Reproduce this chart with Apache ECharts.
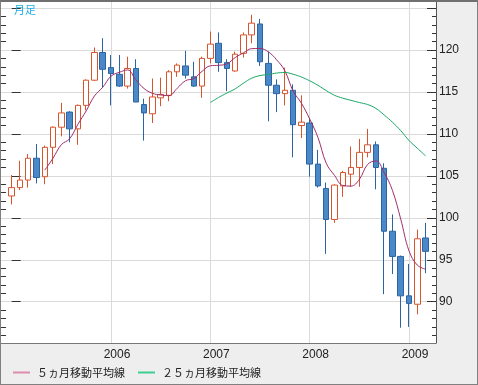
<!DOCTYPE html>
<html><head><meta charset="utf-8">
<script src="https://cdn.jsdelivr.net/npm/echarts@6/dist/echarts.min.js"></script>
<style>
html,body{margin:0;padding:0;background:#eeeeee;}
#wrap{position:absolute;left:0;top:0;width:478px;height:385px;box-sizing:border-box;border:1px solid #808080;border-top:2px solid #707070;background:#eeeeee;}
#chart{width:476px;height:382px;}
</style></head><body>
<div id="wrap"><div id="chart"></div></div>
<script>
// categories: monthly bars, Jan 2005 .. Mar 2009
const startYear = 2005;
const monthCount = 51;
const months = [];
for (let i = 0; i < monthCount; i++) {
  const y = startYear + Math.floor(i / 12), m = (i % 12) + 1;
  months.push(y + '/' + (m < 10 ? '0' : '') + m);
}
const openV  = [102.6,103.6,104.5,107.1,104.9,108.4,110.8,112.6,110.6,113.4,116.4,119.7,
                117.9,117.1,115.7,117.8,113.5,112.4,114.3,114.6,117.4,118.1,116.8,115.7,
                119.0,120.8,118.5,117.5,119.6,121.8,123.1,118.4,115.8,114.8,115.2,111.0,
                111.3,106.4,103.5,99.8,103.8,105.2,106.0,107.8,108.7,105.9,98.4,95.4,
                90.7,89.7,97.6];
const closeV = [103.6,104.5,107.1,104.8,108.4,110.8,112.5,110.6,113.4,116.4,119.7,117.7,
                117.2,115.7,117.8,113.8,112.5,114.4,114.7,117.4,118.2,117.0,115.7,119.0,
                120.7,118.5,117.8,119.5,121.8,123.2,118.6,115.8,114.8,115.2,111.1,111.4,
                106.4,103.8,99.8,103.9,105.4,106.0,107.8,108.7,106.0,98.4,95.4,90.7,
                89.8,97.5,96.0];
const lowV   = [101.6,103.3,103.6,104.1,104.0,106.4,109.7,109.0,108.7,112.8,116.3,115.5,
                113.4,115.6,115.4,113.8,109.2,111.3,113.3,113.9,116.8,116.6,115.6,114.3,
                118.4,117.4,115.1,117.4,119.1,120.8,118.1,111.5,112.6,113.4,107.2,109.5,
                104.9,103.6,95.7,99.4,102.5,103.7,103.7,107.2,103.4,90.9,93.3,86.9,
                87.0,88.5,93.4];
const highV  = [105.1,106.8,107.6,108.8,108.6,110.9,113.7,112.7,113.5,116.5,120.3,121.4,
                119.4,119.4,119.2,118.9,114.2,116.6,116.7,117.6,118.4,119.9,118.6,119.2,
                122.2,122.1,118.9,119.8,122.1,124.2,123.7,119.8,116.5,117.9,115.9,114.6,
                111.9,108.1,104.2,104.0,105.6,108.5,109.4,110.6,109.1,106.5,100.4,95.5,
                94.5,98.6,99.4];
// 5-month moving average, starts at month index 4
const ma5Start = 4;
const ma5 = [105.68,107.12,108.72,109.42,111.14,112.74,114.52,115.56,116.88,117.34,117.62,116.44,
             115.40,114.84,114.64,114.56,115.44,116.34,116.60,117.46,118.12,118.18,118.34,119.10,
             119.66,120.16,120.18,119.78,118.84,117.52,115.10,113.66,111.78,109.58,106.50,105.06,
             103.86,103.78,104.58,106.36,106.78,105.38,103.26,99.84,96.06,94.36,93.88];
// 25-month moving average, starts at month index 24
const ma25Start = 24;
const ma25 = [113.74,114.34,114.87,115.37,116.05,116.64,116.95,117.08,117.25,117.32,117.11,116.78,
              116.33,115.79,115.16,114.60,114.26,114.00,113.74,113.50,113.04,112.25,111.39,110.39,
              109.22,108.29,107.39];
const yearTickLabels = ['2006','2007','2008','2009'];
const yTickLabels = [90,95,100,105,110,115,120];
const yMajorTicks = [85,90,95,100,105,110,115,120,125];
const yMinorTicks = [86,87,88,89,91,92,93,94,96,97,98,99,101,102,103,104,106,107,108,109,
                     111,112,113,114,116,117,118,119,121,122,123,124];
const seriesNames = ['５ヵ月移動平均線','２５ヵ月移動平均線'];

const yearTickPos = yearTickLabels.map(y => months.indexOf(y + '/01'));
const candleData = months.map((m, i) => [i, openV[i], closeV[i], lowV[i], highV[i]]);
const ma5Data = ma5.map((v, j) => [ma5Start + j, v]);
const ma25Data = ma25.map((v, j) => [ma25Start + j, v]);

const chart = echarts.init(document.getElementById('chart'), null, {renderer: 'canvas'});
const yMin = 85.08, yMax = 125.72;
const font = 'Liberation Sans, Arial, sans-serif';
function yAxisDef(pos, ticks, len, labels, split) {
  return {
    type: 'value', min: yMin, max: yMax, position: pos,
    axisLine: {show: labels, lineStyle: {color: '#555', width: 1}},
    axisTick: {show: true, inside: true, length: len, customValues: ticks, lineStyle: {color: '#333'}},
    axisLabel: labels ? {show: true, customValues: yTickLabels, margin: 3, fontSize: 12, color: '#222', fontFamily: font,
      formatter: v => String(Math.round(v))} : {show: false},
    splitLine: split ? {show: true, customValues: ticks, lineStyle: {color: '#dadada', width: 1}} : {show: false}
  };
}
chart.setOption({
  animation: false,
  backgroundColor: '#eeeeee',
  title: {text: '月足', left: 13, top: 2, padding: 0,
    textStyle: {fontSize: 11, fontWeight: 'normal', color: '#1eaee6', fontFamily: 'Noto Sans CJK JP'}},
  grid: {left: 0, right: 41, top: 0, bottom: 41, show: true,
    backgroundColor: '#ffffff', borderWidth: 0},
  legend: {
    left: 12, top: 365, padding: 0, itemWidth: 17, itemHeight: 2, itemGap: 13,
    icon: 'rect',
    textStyle: {fontSize: 11, color: '#222', fontFamily: 'Noto Sans CJK JP', padding: [0, 0, 0, 2]},
    data: [
      {name: seriesNames[0], itemStyle: {color: '#dc8cb0'}},
      {name: seriesNames[1], itemStyle: {color: '#3ccf92'}}
    ]
  },
  xAxis: {
    type: 'value', min: -1.29, max: 51.26,
    axisLine: {show: true, onZero: false, lineStyle: {color: '#777', width: 1}},
    axisTick: {show: false, customValues: yearTickPos},
    axisLabel: {customValues: yearTickPos, margin: 6, fontSize: 12, color: '#222',
      fontFamily: font, padding: [0, 0, 0, 12],
      formatter: v => { const k = yearTickPos.indexOf(Math.round(v)); return k >= 0 ? yearTickLabels[k] : ''; }},
    splitLine: {show: true, customValues: yearTickPos, lineStyle: {color: '#dadada', width: 1}}
  },
  yAxis: [
    yAxisDef('left', yMajorTicks, 9, false, true),
    yAxisDef('right', yMajorTicks, 9, true, false),
    yAxisDef('left', yMinorTicks, 5, false, false),
    yAxisDef('right', yMinorTicks, 4, false, false)
  ],
  series: [
    {
      type: 'candlestick', name: '月足', xAxisIndex: 0, yAxisIndex: 0,
      data: candleData, barWidth: 6,
      itemStyle: {color: '#ffffff', color0: '#4a88c8', borderColor: '#d8542c', borderColor0: '#2a64a2', borderWidth: 1}
    },
    {
      type: 'line', name: seriesNames[0], data: ma5Data, yAxisIndex: 0,
      smooth: 0.4, showSymbol: false, symbol: 'none',
      lineStyle: {color: '#a22e6c', width: 1}, itemStyle: {color: '#a22e6c'}
    },
    {
      type: 'line', name: seriesNames[1], data: ma25Data, yAxisIndex: 0,
      smooth: 0.4, showSymbol: false, symbol: 'none',
      lineStyle: {color: '#17a865', width: 1}, itemStyle: {color: '#17a865'}
    }
  ]
});
</script>
</body></html>
